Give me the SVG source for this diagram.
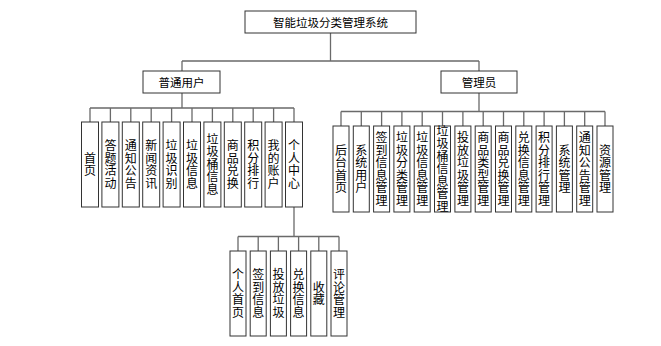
<svg xmlns="http://www.w3.org/2000/svg" width="661" height="346" viewBox="0 0 661 346">
<style>
rect{fill:#fff;stroke:#333;stroke-width:1}
.c path{fill:none;stroke:#6a6a6a;stroke-width:1.3}
text{font-family:"Noto Sans CJK SC","Noto Sans",sans-serif;fill:#000}
.h{font-size:11.5px;text-anchor:middle;dominant-baseline:central}
.v{font-size:12px;writing-mode:vertical-rl;text-anchor:middle;letter-spacing:0.5px}
</style>
<rect width="661" height="346" style="fill:#fff;stroke:none"/>
<g class="c" id="connectors">
<path d="M330.5 33V61M182 61H479M182 61V71M479 61V71"/>
<path d="M182 93V108M90 108H294M90 108V122M110.4 108V122M130.8 108V122M151.2 108V122M171.6 108V122M192 108V122M212.4 108V122M232.8 108V122M253.2 108V122M273.6 108V122M294 108V122"/>
<path d="M294 207V236.5M238 236.5H339M238 236.5V251M258.2 236.5V251M278.4 236.5V251M298.6 236.5V251M318.8 236.5V251M339 236.5V251"/>
<path d="M479 93V111.5M341 111.5H605M341 111.5V126M361.3 111.5V126M381.6 111.5V126M401.9 111.5V126M422.2 111.5V126M442.5 111.5V126M462.9 111.5V126M483.2 111.5V126M503.5 111.5V126M523.8 111.5V126M544.1 111.5V126M564.4 111.5V126M584.7 111.5V126M605 111.5V126"/>
</g>
<g id="root"><rect x="245" y="11" width="171" height="22"/><text class="h" x="330.5" y="22">智能垃圾分类管理系统</text></g>
<g id="user"><rect x="143" y="71" width="77" height="22"/><text class="h" x="181.5" y="82">普通用户</text></g>
<g id="admin"><rect x="441" y="71" width="76" height="22"/><text class="h" x="479" y="82">管理员</text></g>

<g id="u1"><rect x="81.5" y="122" width="17" height="85"/><text class="v" x="90" y="164.5">首页</text></g>
<g id="u2"><rect x="101.9" y="122" width="17" height="85"/><text class="v" x="110.4" y="164.5">答题活动</text></g>
<g id="u3"><rect x="122.3" y="122" width="17" height="85"/><text class="v" x="130.8" y="164.5">通知公告</text></g>
<g id="u4"><rect x="142.7" y="122" width="17" height="85"/><text class="v" x="151.2" y="164.5">新闻资讯</text></g>
<g id="u5"><rect x="163.1" y="122" width="17" height="85"/><text class="v" x="171.6" y="164.5">垃圾识别</text></g>
<g id="u6"><rect x="183.5" y="122" width="17" height="85"/><text class="v" x="192" y="164.5">垃圾信息</text></g>
<g id="u7"><rect x="203.9" y="122" width="17" height="85"/><text class="v" x="212.4" y="164.5">垃圾桶信息</text></g>
<g id="u8"><rect x="224.3" y="122" width="17" height="85"/><text class="v" x="232.8" y="164.5">商品兑换</text></g>
<g id="u9"><rect x="244.7" y="122" width="17" height="85"/><text class="v" x="253.2" y="164.5">积分排行</text></g>
<g id="u10"><rect x="265.1" y="122" width="17" height="85"/><text class="v" x="273.6" y="164.5">我的账户</text></g>
<g id="u11"><rect x="285.5" y="122" width="17" height="85"/><text class="v" x="294" y="164.5">个人中心</text></g>

<g id="p1"><rect x="230" y="251" width="16" height="85"/><text class="v" x="238" y="293.5">个人首页</text></g>
<g id="p2"><rect x="250.2" y="251" width="16" height="85"/><text class="v" x="258.2" y="293.5">签到信息</text></g>
<g id="p3"><rect x="270.4" y="251" width="16" height="85"/><text class="v" x="278.4" y="293.5">投放垃圾</text></g>
<g id="p4"><rect x="290.6" y="251" width="16" height="85"/><text class="v" x="298.6" y="293.5">兑换信息</text></g>
<g id="p5"><rect x="310.8" y="251" width="16" height="85"/><text class="v" x="318.8" y="293.5">收藏</text></g>
<g id="p6"><rect x="331" y="251" width="16" height="85"/><text class="v" x="339" y="293.5">评论管理</text></g>

<g id="a1"><rect x="333" y="126" width="16" height="86"/><text class="v" x="341" y="169">后台首页</text></g>
<g id="a2"><rect x="353.3" y="126" width="16" height="86"/><text class="v" x="361.3" y="169">系统用户</text></g>
<g id="a3"><rect x="373.6" y="126" width="16" height="86"/><text class="v" x="381.6" y="169">签到信息管理</text></g>
<g id="a4"><rect x="393.9" y="126" width="16" height="86"/><text class="v" x="401.9" y="169">垃圾分类管理</text></g>
<g id="a5"><rect x="414.2" y="126" width="16" height="86"/><text class="v" x="422.2" y="169">垃圾信息管理</text></g>
<g id="a6"><rect x="434.5" y="126" width="16" height="86"/><text class="v" x="442.5" y="169">垃圾桶信息管理</text></g>
<g id="a7"><rect x="454.9" y="126" width="16" height="86"/><text class="v" x="462.9" y="169">投放垃圾管理</text></g>
<g id="a8"><rect x="475.2" y="126" width="16" height="86"/><text class="v" x="483.2" y="169">商品类型管理</text></g>
<g id="a9"><rect x="495.5" y="126" width="16" height="86"/><text class="v" x="503.5" y="169">商品兑换管理</text></g>
<g id="a10"><rect x="515.8" y="126" width="16" height="86"/><text class="v" x="523.8" y="169">兑换信息管理</text></g>
<g id="a11"><rect x="536.1" y="126" width="16" height="86"/><text class="v" x="544.1" y="169">积分排行管理</text></g>
<g id="a12"><rect x="556.4" y="126" width="16" height="86"/><text class="v" x="564.4" y="169">系统管理</text></g>
<g id="a13"><rect x="576.7" y="126" width="16" height="86"/><text class="v" x="584.7" y="169">通知公告管理</text></g>
<g id="a14"><rect x="597" y="126" width="16" height="86"/><text class="v" x="605" y="169">资源管理</text></g>
</svg>
